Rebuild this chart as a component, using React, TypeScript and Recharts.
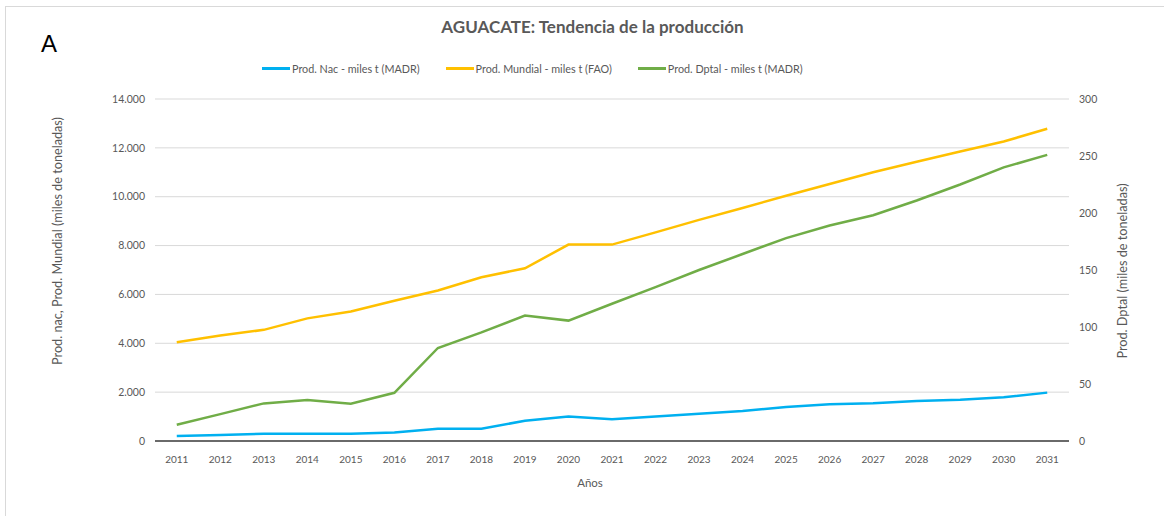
import React from 'react';
import { LineChart, Line, XAxis, YAxis, CartesianGrid } from 'recharts';

const years = ['2011','2012','2013','2014','2015','2016','2017','2018','2019','2020','2021','2022','2023','2024','2025','2026','2027','2028','2029','2030','2031'];
const prodNac = [200,250,300,300,300,350,500,500,830,1000,890,1000,1120,1230,1390,1500,1550,1640,1690,1790,1980];
const prodMundial = [4040,4320,4550,5020,5300,5740,6160,6700,7070,8040,8040,8540,9050,9540,10040,10520,11000,11430,11850,12260,12780];
const prodDptal = [14.3,23.6,33,36,32.6,42.3,81.6,95.3,110,105.6,120.4,135,150,164,178,189,198,211,225,240,251];
const leftTicks = [0,2000,4000,6000,8000,10000,12000,14000];
const rightTicks = [0,50,100,150,200,250,300];

const seriesInfo = [
  { key: 'nac', name: 'Prod. Nac - miles t (MADR)', color: '#00b0f0', axis: 'left' },
  { key: 'mundial', name: 'Prod. Mundial - miles t (FAO)', color: '#ffc000', axis: 'left' },
  { key: 'dptal', name: 'Prod. Dptal - miles t (MADR)', color: '#70ad47', axis: 'right' },
];

const data = years.map((y, i) => ({ year: y, nac: prodNac[i], mundial: prodMundial[i], dptal: prodDptal[i] }));

const FONT = 'Lato, "Open Sans", sans-serif';
const GRAY = '#595959';
const fmt = (v: number) => String(v).replace(/\B(?=(\d{3})+(?!\d))/g, '.');

export default function App() {
  return (
    <div style={{ position: 'absolute', left: 0, top: 0, width: 1164, height: 516, background: '#fff', fontFamily: FONT }}>
      <div style={{ position: 'absolute', left: 5, top: 6, right: 0, bottom: 0, borderTop: '1px solid #d9d9d9', borderLeft: '1px solid #d9d9d9' }} />
      <div style={{ position: 'absolute', left: 41, top: 30, fontSize: 24, fontFamily: 'Arial, "Liberation Sans", sans-serif', color: '#000' }}>A</div>
      <div style={{ position: 'absolute', left: 0, width: 1185, top: 16, textAlign: 'center', fontSize: 17, fontWeight: 700, color: GRAY }}>
        AGUACATE: Tendencia de la producción
      </div>
      <div style={{ position: 'absolute', left: 262, top: 62, display: 'flex', alignItems: 'center', fontSize: 10.8, color: GRAY }}>
        {seriesInfo.map((s, i) => (
          <div key={s.key} style={{ display: 'flex', alignItems: 'center', marginRight: i < 2 ? 26 : 0 }}>
            <div style={{ width: 28, height: 3, background: s.color, marginRight: 2 }} />
            <span style={{ whiteSpace: 'nowrap' }}>{s.name}</span>
          </div>
        ))}
      </div>
      <LineChart width={1164} height={516} data={data} margin={{ top: 99, right: 35, bottom: 25, left: 95 }}>
        <CartesianGrid vertical={false} stroke="#d9d9d9" yAxisId="left" />
        <XAxis dataKey="year" scale="band" tickLine={false} axisLine={{ stroke: '#3f3f3f', strokeWidth: 1.5 }} tickMargin={9} height={50}
          tick={{ fill: GRAY, fontSize: 10, fontFamily: FONT }} interval={0} />
        <YAxis yAxisId="left" orientation="left" width={60} domain={[0, 14000]} ticks={leftTicks} tickFormatter={fmt}
          axisLine={false} tickLine={false} tickSize={0} tickMargin={10} tick={{ fill: GRAY, fontSize: 10.5, fontFamily: FONT }} />
        <YAxis yAxisId="right" orientation="right" width={60} domain={[0, 300]} ticks={rightTicks}
          axisLine={false} tickLine={false} tickSize={0} tickMargin={10} tick={{ fill: GRAY, fontSize: 10.5, fontFamily: FONT }} />
        {seriesInfo.map((s) => (
          <Line key={s.key} yAxisId={s.axis} dataKey={s.key} name={s.name} type="linear" stroke={s.color} strokeWidth={2.5}
            dot={false} activeDot={false} isAnimationActive={false} />
        ))}
      </LineChart>
      <svg width={1164} height={516} style={{ position: 'absolute', left: 0, top: 0, pointerEvents: 'none' }}>
        <text x={590} y={487} textAnchor="middle" fontSize={11.5} fill={GRAY} fontFamily={FONT}>Años</text>
        <text transform="translate(62,241) rotate(-90)" textAnchor="middle" fontSize={12.7} fill={GRAY} fontFamily={FONT}>
          Prod. nac, Prod. Mundial (miles de toneladas)
        </text>
        <text transform="translate(1127,271) rotate(-90)" textAnchor="middle" fontSize={12.7} fill={GRAY} fontFamily={FONT}>
          Prod. Dptal (miles de toneladas)
        </text>
      </svg>
    </div>
  );
}
